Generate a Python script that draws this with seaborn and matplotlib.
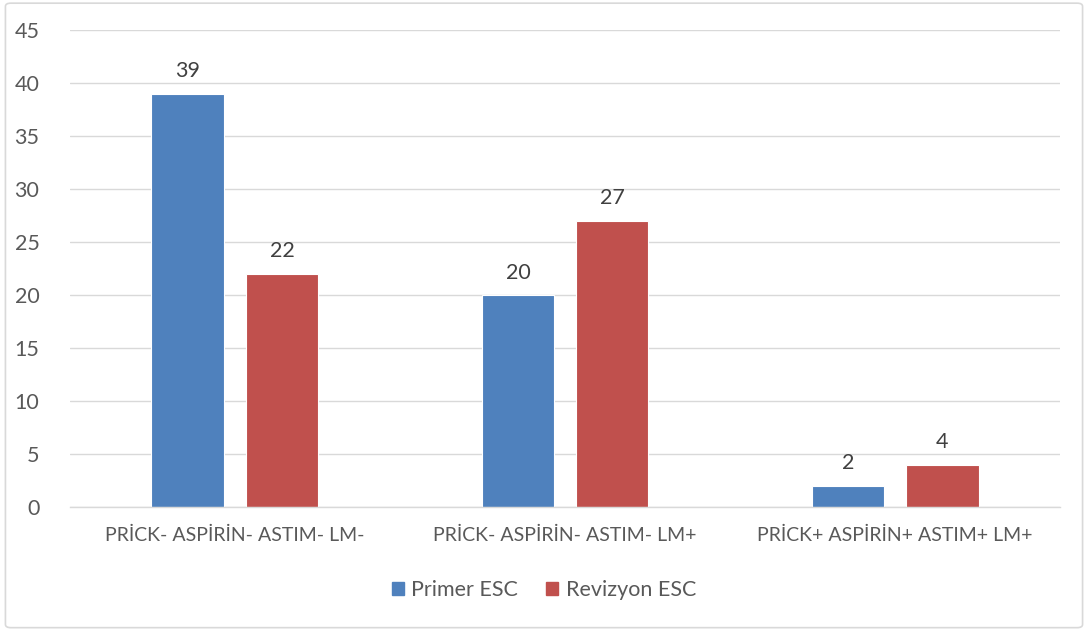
import pandas as pd
import matplotlib.pyplot as plt
import matplotlib.patches as mpatches
import seaborn as sns

categories = ['PRİCK- ASPİRİN- ASTIM- LM-', 'PRİCK- ASPİRİN- ASTIM- LM+', 'PRİCK+ ASPİRİN+ ASTIM+ LM+']
series = ['Primer ESC', 'Revizyon ESC']
primer = [39, 20, 2]
revizyon = [22, 27, 4]
yticks = list(range(0, 50, 5))

colors = ['#4F81BD', '#C0504D']
text_color = '#595959'

df = pd.DataFrame({
    'kategori': categories * 2,
    'seri': [series[0]] * 3 + [series[1]] * 3,
    'deger': primer + revizyon,
})

sns.set_theme(style='white')
plt.rcParams['font.family'] = ['Lato', 'DejaVu Sans']

fig = plt.figure(figsize=(10.88, 6.34), dpi=100)
ax = fig.add_axes([0.0643, 0.2003, 0.91, 0.7524])

sns.barplot(data=df, x='kategori', y='deger', hue='seri', order=categories, hue_order=series,
            palette=colors, width=0.57, gap=0.225, ax=ax, legend=False, saturation=1,
            edgecolor='white', linewidth=0.8)

for cont in ax.containers:
    ax.bar_label(cont, padding=9, fontsize=15.5, color='#404040')

ax.set_ylim(0, 45)
ax.set_xlim(-0.5, 2.5)
ax.set_yticks(yticks)
ax.yaxis.grid(True, color='#D9D9D9', linewidth=1)
ax.set_axisbelow(True)
for s in ['top', 'right', 'left']:
    ax.spines[s].set_visible(False)
ax.spines['bottom'].set_color('#D9D9D9')
ax.spines['bottom'].set_linewidth(1)
ax.tick_params(axis='y', length=0, labelsize=15.5, labelcolor=text_color, pad=22)
ax.tick_params(axis='x', length=0, labelsize=14, labelcolor=text_color, pad=14)
ax.set_xlabel('')
ax.set_ylabel('')

handles = [mpatches.Patch(color=c, label=s) for c, s in zip(colors, series)]
fig.legend(handles=handles, loc='center', bbox_to_anchor=(0.5, 0.069), ncol=2, frameon=False,
           fontsize=15.5, labelcolor=text_color, handlelength=0.55, handleheight=0.55,
           handletextpad=0.35, columnspacing=1.3)

border = mpatches.FancyBboxPatch((0.005, 0.01), 0.99, 0.985, boxstyle='round,pad=0,rounding_size=0.005',
                                 transform=fig.transFigure, fill=False, edgecolor='#D9D9D9', linewidth=1.2)
fig.patches.append(border)

fig.savefig('out.png', dpi=100)
